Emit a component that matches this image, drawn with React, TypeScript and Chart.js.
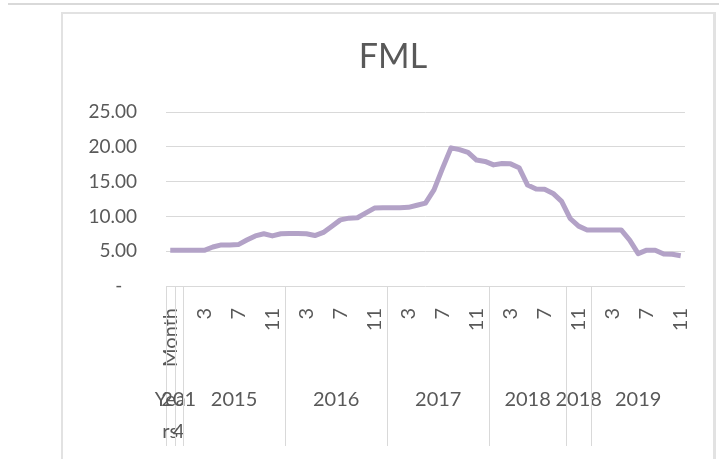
import { useEffect, useRef } from "react";
import { Chart, registerables } from "chart.js";

Chart.register(...registerables);

const chartTitle = "FML";
const yearGroups = ["Years", "2014", "2015", "2016", "2017", "2018", "2018", "2019"];
const yearGroupSizes = [1, 1, 12, 12, 12, 9, 3, 11];
const monthLabels = [
  "Month", "12",
  "1", "2", "3", "4", "5", "6", "7", "8", "9", "10", "11", "12",
  "1", "2", "3", "4", "5", "6", "7", "8", "9", "10", "11", "12",
  "1", "2", "3", "4", "5", "6", "7", "8", "9", "10", "11", "12",
  "1", "2", "3", "4", "5", "6", "7", "8", "9",
  "10", "11", "12",
  "1", "2", "3", "4", "5", "6", "7", "8", "9", "10", "11",
];
const fmlValues = [
  5.13, 5.13, 5.13, 5.13, 5.13, 5.6, 5.9, 5.9, 5.95, 6.6,
  7.2, 7.5, 7.2, 7.5, 7.55, 7.55, 7.5, 7.25, 7.7, 8.6,
  9.5, 9.75, 9.8, 10.5, 11.2, 11.25, 11.25, 11.25, 11.3, 11.6,
  11.9, 13.8, 16.9, 19.85, 19.6, 19.2, 18.1, 17.9, 17.4, 17.6,
  17.55, 17.0, 14.5, 13.94, 13.9, 13.3, 12.15, 9.7, 8.6, 8.05,
  8.05, 8.05, 8.05, 8.05, 6.6, 4.65, 5.15, 5.15, 4.6, 4.55,
  4.35,
];
const yMin = 0;
const yMax = 25;
const yStep = 5;

const FONT = "Lato, 'Open Sans', sans-serif";
const TEXT = "#595959";
const GRID = "#d9d9d9";
const LINE = "#b3a2c7";

const framePlugin = {
  id: "frame",
  beforeDraw(chart: any) {
    const ctx = chart.ctx;
    ctx.save();
    ctx.fillStyle = "#ffffff";
    ctx.fillRect(0, 0, chart.width, chart.height);
    ctx.fillStyle = "#d9d9d9";
    ctx.fillRect(8, 3, chart.width - 8, 2);
    ctx.fillStyle = "#e2e2e2";
    ctx.fillRect(61, 12, 2, chart.height - 12);
    ctx.fillRect(61, 12, 654, 2);
    ctx.fillRect(713, 12, 3, chart.height - 12);
    // title, centred on the chart frame
    ctx.fillStyle = TEXT;
    ctx.font = `34px ${FONT}`;
    ctx.textAlign = "center";
    ctx.textBaseline = "alphabetic";
    ctx.fillText(chartTitle, 393, 68);
    ctx.restore();
  },
};

const groupAxisPlugin = {
  id: "groupAxis",
  afterDraw(chart: any) {
    const ctx = chart.ctx;
    const x = chart.scales.x;
    const area = chart.chartArea;
    const half = (x.getPixelForValue(1) - x.getPixelForValue(0)) / 2;
    ctx.save();
    ctx.strokeStyle = GRID;
    ctx.lineWidth = 1;
    ctx.fillStyle = TEXT;
    ctx.font = `20px ${FONT}`;
    ctx.textAlign = "center";
    ctx.textBaseline = "middle";
    let start = 0;
    yearGroups.forEach((label, g) => {
      const n = yearGroupSizes[g];
      const left = x.getPixelForValue(start) - half;
      const right = x.getPixelForValue(start + n - 1) + half;
      const px = Math.round(left) + 0.5;
      ctx.beginPath();
      ctx.moveTo(px, area.bottom);
      ctx.lineTo(px, area.bottom + 160);
      ctx.stroke();
      const cx = (left + right) / 2;
      const lines = n === 1 ? [label.slice(0, 3), label.slice(3)] : [label];
      lines.forEach((t, k) => {
        ctx.fillText(t, cx, area.bottom + 114 + k * 32);
      });
      start += n;
    });
    ctx.restore();
  },
};

export default function App() {
  const ref = useRef<HTMLCanvasElement | null>(null);
  useEffect(() => {
    document.body.style.margin = "0";
    const canvas = ref.current;
    if (!canvas) return;
    const chart = new Chart(canvas, {
      type: "line",
      data: {
        labels: monthLabels,
        datasets: [
          {
            data: fmlValues,
            borderColor: LINE,
            borderWidth: 5,
            pointRadius: 0,
            tension: 0,
            borderJoinStyle: "round",
            borderCapStyle: "butt",
          },
        ],
      },
      options: {
        animation: false,
        responsive: false,
        devicePixelRatio: 1,
        layout: { padding: { top: 112, left: 62, right: 34, bottom: 0 } },
        plugins: {
          legend: { display: false },
          tooltip: { enabled: false },
          title: { display: false },
        },
        scales: {
          x: {
            offset: true,
            grid: { display: false },
            border: { display: false },
            ticks: {
              autoSkip: false,
              minRotation: 90,
              maxRotation: 90,
              padding: 14,
              color: TEXT,
              font: { family: FONT, size: 20 },
              callback: (_v: any, i: number) => (i % 4 === 0 ? monthLabels[i] : ""),
            },
            afterFit: (s: any) => {
              s.height = 173;
            },
          },
          y: {
            min: yMin,
            max: yMax,
            grid: { color: GRID, drawTicks: false },
            border: { display: false },
            ticks: {
              stepSize: yStep,
              padding: 29,
              color: TEXT,
              font: { family: FONT, size: 19 },
              callback: (v: any) => (Number(v) === 0 ? "-   " : Number(v).toFixed(2)),
            },
            afterFit: (s: any) => {
              s.width = 104;
            },
          },
        },
      },
      plugins: [framePlugin, groupAxisPlugin],
    } as any);
    return () => chart.destroy();
  }, []);
  return (
    <div style={{ position: "absolute", left: 0, top: 0, width: 719, height: 459 }}>
      <canvas ref={ref} width={719} height={459} style={{ display: "block" }} />
    </div>
  );
}
